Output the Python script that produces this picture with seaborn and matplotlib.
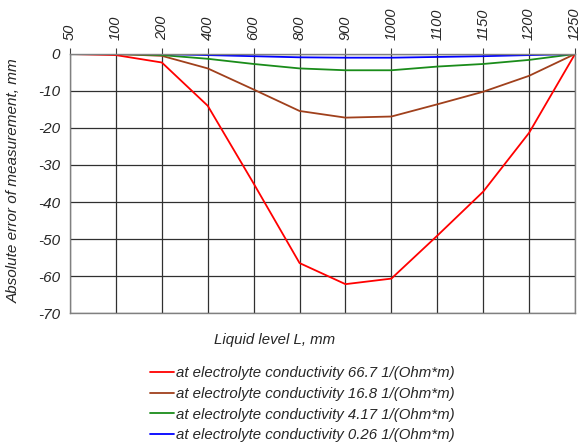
import pandas as pd
import matplotlib.pyplot as plt
import seaborn as sns

# Liquid level categories (equally spaced on the chart)
levels = ['50', '100', '200', '400', '600', '800', '900', '1000', '1100', '1150', '1200', '1250']

# Absolute error, mm, for each electrolyte conductivity
err_667 = [0, -0.3, -2.3, -14.0, -35.0, -56.5, -62.2, -60.7, -49.1, -37.2, -21.3, 0]
err_168 = [0, 0, -0.5, -3.9, -9.6, -15.4, -17.2, -16.9, -13.6, -10.2, -5.9, 0]
err_417 = [0, 0, -0.3, -1.3, -2.7, -3.9, -4.4, -4.4, -3.4, -2.7, -1.6, 0]
err_026 = [0, 0, 0, -0.3, -0.6, -0.9, -1.0, -1.0, -0.8, -0.6, -0.3, 0]

series_names = [
    'at electrolyte conductivity 66.7 1/(Ohm*m)',
    'at electrolyte conductivity 16.8 1/(Ohm*m)',
    'at electrolyte conductivity 4.17 1/(Ohm*m)',
    'at electrolyte conductivity 0.26 1/(Ohm*m)',
]
colors = ['#ff0000', '#a0401c', '#1a8c1a', '#0000ff']

frames = []
for name, vals in zip(series_names, [err_667, err_168, err_417, err_026]):
    frames.append(pd.DataFrame({'level': levels, 'error': vals, 'series': name}))
df = pd.concat(frames, ignore_index=True)

sns.set_style('white')
plt.rcParams['font.family'] = ['Liberation Sans', 'DejaVu Sans']
plt.rcParams['font.style'] = 'italic'

fig = plt.figure(figsize=(5.81, 4.48), dpi=100)
ax = fig.add_axes([0.1205, 0.3013, 0.8692, 0.5782])

sns.lineplot(data=df, x='level', y='error', hue='series', palette=colors,
             sort=False, linewidth=1.3, ax=ax, legend=True)

ax.set_xlim(0, len(levels) - 1)
ax.set_ylim(-70, 0)
ax.set_yticks(range(-70, 1, 10))
ax.xaxis.tick_top()
ax.tick_params(axis='x', labelrotation=90, labelsize=10.5, length=4, color='#404040', pad=6)
ax.tick_params(axis='y', labelsize=11, length=4, color='#404040', pad=3)
ax.set_yticklabels([str(v) for v in range(-70, 1, 10)], fontstyle='italic')
ax.set_xticklabels(levels, fontstyle='italic')
ax.grid(True, color='#303030', linewidth=0.9)
for sp in ax.spines.values():
    sp.set_color('#808080')
    sp.set_linewidth(1)

ax.set_xlabel('')
ax.set_ylabel('Absolute error of measurement, mm', fontsize=11, fontstyle='italic')
ax.yaxis.set_label_coords(-0.097, 0.51)
fig.text(0.472, 0.24, 'Liquid level L, mm', fontsize=10.8, fontstyle='italic', ha='center', va='center')

ax.get_legend().remove()
h, l = ax.get_legend_handles_labels()
fig.legend(h, l, loc='upper center', bbox_to_anchor=(0.52, 0.213), frameon=False,
           handlelength=1.6, handletextpad=0.15, labelspacing=0.45,
           prop={'style': 'italic', 'size': 10.8})

fig.savefig('out.png', dpi=100)
